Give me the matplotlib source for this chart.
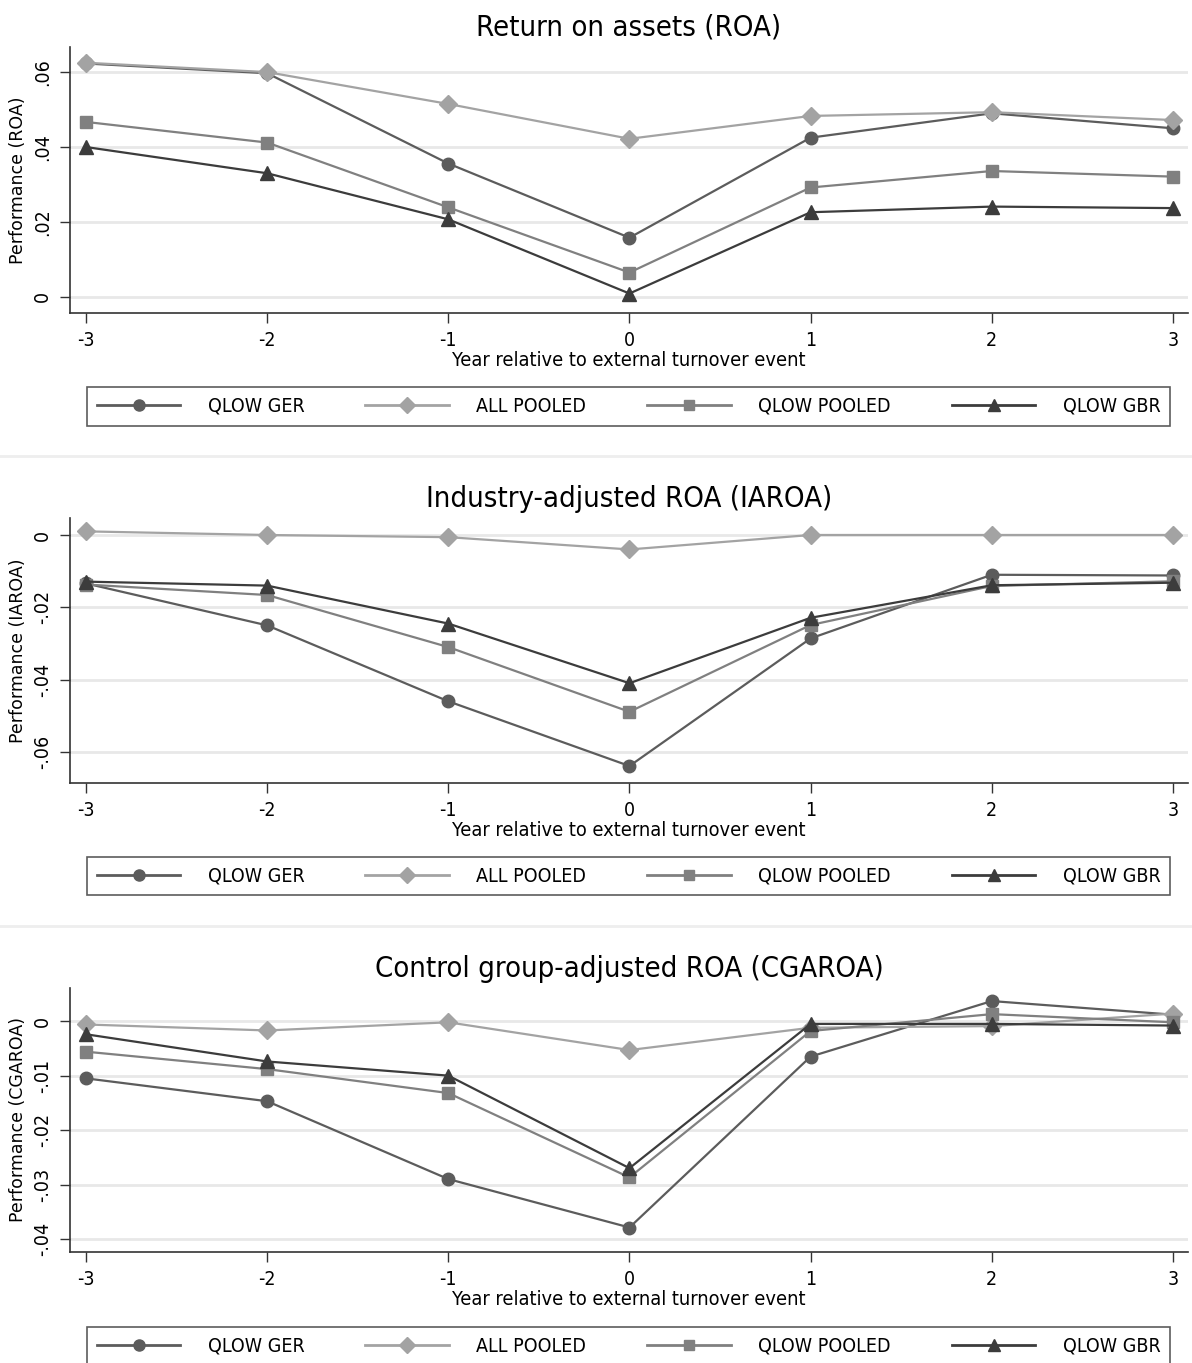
import matplotlib
matplotlib.use("Agg")
import matplotlib.pyplot as plt
from matplotlib.lines import Line2D

plt.rcParams['font.family'] = ['DejaVu Sans']
plt.rcParams['font.stretch'] = 'condensed'

# ---- data ----
years = [-3, -2, -1, 0, 1, 2, 3]
series_names = ["QLOW GER", "ALL POOLED", "QLOW POOLED", "QLOW GBR"]

roa_qlow_ger = [0.0623, 0.0597, 0.0356, 0.0158, 0.0425, 0.0490, 0.0450]
roa_all_pooled = [0.0625, 0.0600, 0.0515, 0.0422, 0.0483, 0.0493, 0.0472]
roa_qlow_pooled = [0.0467, 0.0412, 0.0239, 0.0065, 0.0292, 0.0336, 0.0321]
roa_qlow_gbr = [0.0400, 0.0330, 0.0207, 0.0009, 0.0226, 0.0241, 0.0237]

iaroa_qlow_ger = [-0.0134, -0.0250, -0.0460, -0.0639, -0.0286, -0.0110, -0.0112]
iaroa_all_pooled = [0.0010, 0.0000, -0.0006, -0.0040, 0.0000, 0.0000, 0.0000]
iaroa_qlow_pooled = [-0.0137, -0.0166, -0.0310, -0.0489, -0.0249, -0.0141, -0.0128]
iaroa_qlow_gbr = [-0.0129, -0.0140, -0.0245, -0.0410, -0.0229, -0.0139, -0.0132]

cgaroa_qlow_ger = [-0.0105, -0.0147, -0.0290, -0.0379, -0.0065, 0.0037, 0.0012]
cgaroa_all_pooled = [-0.0006, -0.0017, -0.0002, -0.0053, -0.0012, -0.0009, 0.0014]
cgaroa_qlow_pooled = [-0.0056, -0.0088, -0.0132, -0.0287, -0.0018, 0.0013, -0.0002]
cgaroa_qlow_gbr = [-0.0024, -0.0074, -0.0100, -0.0270, -0.0005, -0.0005, -0.0008]

titles = ["Return on assets (ROA)",
          "Industry-adjusted ROA (IAROA)",
          "Control group-adjusted ROA (CGAROA)"]
ylabels = ["Performance (ROA)", "Performance (IAROA)", "Performance (CGAROA)"]
xlabel = "Year relative to external turnover event"

roa_ticks = [0, 0.02, 0.04, 0.06]
roa_ticklabels = ["0", ".02", ".04", ".06"]
iaroa_ticks = [0, -0.02, -0.04, -0.06]
iaroa_ticklabels = ["0", "-.02", "-.04", "-.06"]
cgaroa_ticks = [0, -0.01, -0.02, -0.03, -0.04]
cgaroa_ticklabels = ["0", "-.01", "-.02", "-.03", "-.04"]

panels = [
    ([roa_qlow_ger, roa_all_pooled, roa_qlow_pooled, roa_qlow_gbr],
     roa_ticks, roa_ticklabels, (-0.0043, 0.0667)),
    ([iaroa_qlow_ger, iaroa_all_pooled, iaroa_qlow_pooled, iaroa_qlow_gbr],
     iaroa_ticks, iaroa_ticklabels, (-0.0686, 0.0047)),
    ([cgaroa_qlow_ger, cgaroa_all_pooled, cgaroa_qlow_pooled, cgaroa_qlow_gbr],
     cgaroa_ticks, cgaroa_ticklabels, (-0.0424, 0.0061)),
]

colors = ["#5c5c5c", "#a3a3a3", "#808080", "#3c3c3c"]
markers = ["o", "D", "s", "^"]
msizes = [9, 9.5, 8.5, 9.5]

W, H = 1192, 1363
fig = plt.figure(figsize=(W / 100, H / 100), dpi=100)

# axes boxes in pixels: (top, bottom)
ax_px = [(47, 313), (518, 783), (988, 1252)]
legend_px = [(385, 428), (855, 897), (1325, 1368)]
left_px, right_px = 70, 1188

for i, (data, ticks, ticklabels, ylim) in enumerate(panels):
    top, bot = ax_px[i]
    ax = fig.add_axes([left_px / W, 1 - bot / H, (right_px - left_px) / W, (bot - top) / H])
    for yv in ticks:
        ax.axhline(yv, color="#e8e8e8", lw=2, zorder=0)
    for j, vals in enumerate(data):
        ax.plot(years, vals, color=colors[j], marker=markers[j], ms=msizes[j],
                lw=1.6, mec=colors[j], mfc=colors[j], zorder=3)
    ax.set_xlim(-3.088, 3.083)
    ax.set_ylim(*ylim)
    ax.set_xticks(years)
    ax.set_xticklabels([str(y) for y in years], fontsize=14)
    ax.set_yticks(ticks)
    ax.set_yticklabels(ticklabels, rotation=90, va="center", fontsize=14)
    ax.tick_params(axis="both", direction="out", length=7, width=1, color="#333333", pad=6)
    for s in ["top", "right"]:
        ax.spines[s].set_visible(False)
    for s in ["left", "bottom"]:
        ax.spines[s].set_color("#333333")
        ax.spines[s].set_linewidth(1.2)
    ax.set_title(titles[i], fontsize=21, pad=8)
    ax.set_xlabel(xlabel, fontsize=14.3, labelpad=0.5)
    ax.set_ylabel(ylabels[i], fontsize=12.5, stretch="normal", labelpad=4)

    handles = [Line2D([0], [0], color=colors[j], marker=markers[j], ms=msizes[j] - 1,
                      lw=2, mec=colors[j], mfc=colors[j]) for j in range(4)]
    ltop, lbot = legend_px[i]
    leg = fig.legend(handles, series_names, ncol=4, mode="expand",
                     bbox_to_anchor=(87 / W, 1 - lbot / H, (1170 - 87) / W, (lbot - ltop) / H),
                     loc="center", fontsize=14, handlelength=4.3, handletextpad=1.4,
                     frameon=True, fancybox=False, borderaxespad=0, borderpad=0.5)
    leg.get_frame().set_edgecolor("#333333")
    leg.get_frame().set_linewidth(1.2)

# faint separators between the panels
for ysep in [456, 926]:
    fig.add_artist(Line2D([0, 1], [1 - ysep / H] * 2, color="#eeeeee", lw=2,
                          transform=fig.transFigure))

fig.savefig("out.png", dpi=100)
